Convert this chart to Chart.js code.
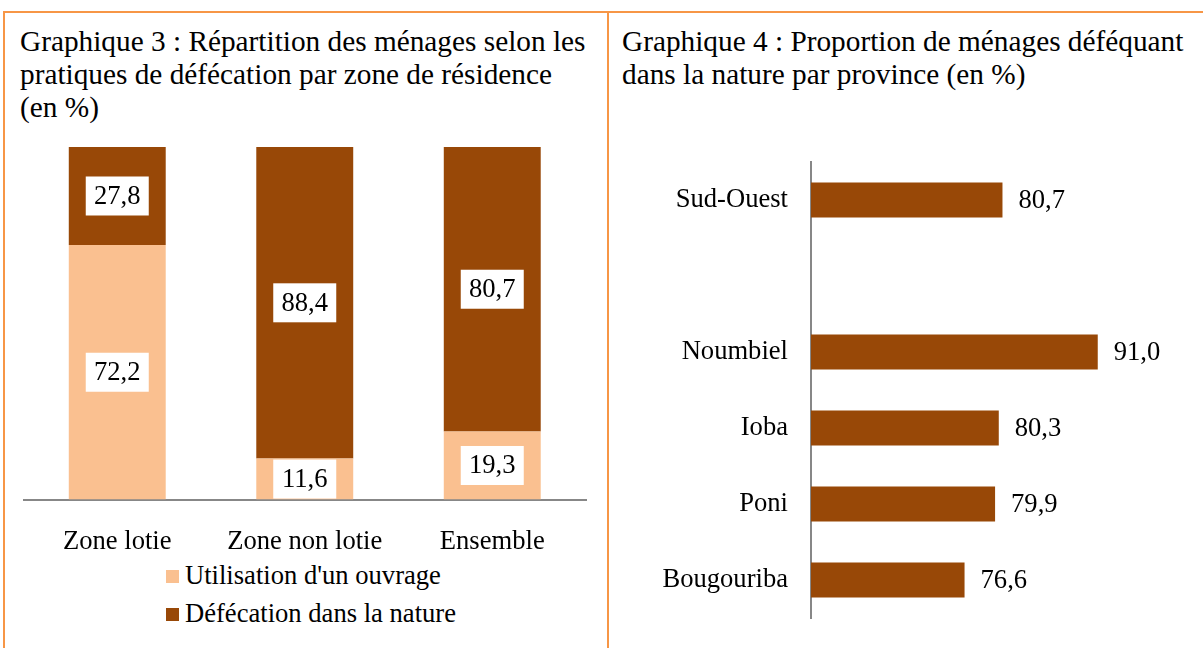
<!DOCTYPE html>
<html>
<head>
<meta charset="utf-8">
<script src="https://cdn.jsdelivr.net/npm/chart.js@4.4.0/dist/chart.umd.min.js"></script>
<style>
  body { margin: 0; width: 1203px; height: 648px; background: #fff; position: relative; overflow: hidden; font-family: "Liberation Serif", "Times New Roman", serif; }
  .line { position: absolute; background: #F79646; }
  .title { position: absolute; font-size: 29.3px; line-height: 33px; color: #000; white-space: nowrap; }
  .legend { position: absolute; left: 166px; font-size: 26.6px; line-height: 30px; color: #000; white-space: nowrap; }
  .legend span.box { display: inline-block; width: 13px; height: 13px; margin-right: 6px; vertical-align: 1px; }
  canvas { position: absolute; }
</style>
</head>
<body>
<div class="line" style="left:4px; top:11px; width:1199px; height:2px;"></div>
<div class="line" style="left:3px; top:11px; width:2px; height:637px;"></div>
<div class="line" style="left:607px; top:11px; width:2px; height:637px;"></div>

<div class="title" style="left:20px; top:25px;">Graphique 3 : Répartition des ménages selon les<br>pratiques de défécation par zone de résidence<br>(en %)</div>
<div class="title" style="left:622px; top:25px;">Graphique 4 : Proportion de ménages déféquant<br>dans la nature par province (en %)</div>

<canvas id="zoneChart" style="left:6px; top:120px;" width="600" height="440"></canvas>
<div id="zoneLegend"></div>
<canvas id="provChart" style="left:612px; top:130px;" width="591" height="510"></canvas>

<script>
// Graphique 3
const zones = ['Zone lotie', 'Zone non lotie', 'Ensemble'];
const ouvrage = [72.2, 11.6, 19.3];
const nature = [27.8, 88.4, 80.7];
const seriesNames = ["Utilisation d'un ouvrage", 'Défécation dans la nature'];
const seriesColors = ['#FAC090', '#984807'];

// Graphique 4
const provinces = ['Sud-Ouest', '', 'Noumbiel', 'Ioba', 'Poni', 'Bougouriba'];
const provValues = [80.7, null, 91.0, 80.3, 79.9, 76.6];

const serif = '"Liberation Serif", "Times New Roman", serif';
const axisGrey = '#878787';
const fontSize = 26.6;

function fr(v) {
    return v.toFixed(1).replace('.', ',');
}

// white boxed labels in the middle of each stacked segment
const boxLabels = {
    id: 'boxLabels',
    afterDatasetsDraw(chart) {
        const ctx = chart.ctx;
        ctx.save();
        ctx.font = fontSize + 'px ' + serif;
        ctx.textAlign = 'center';
        ctx.textBaseline = 'middle';
        chart.data.datasets.forEach((ds, i) => {
            chart.getDatasetMeta(i).data.forEach((bar, j) => {
                const cy = (bar.y + bar.base) / 2;
                ctx.fillStyle = '#fff';
                ctx.fillRect(bar.x - 31.5, cy - 19.5, 63, 39);
                ctx.fillStyle = '#000';
                ctx.fillText(fr(ds.data[j]), bar.x, cy + 1);
            });
        });
        ctx.restore();
    }
};

// value labels after the end of each horizontal bar
const endLabels = {
    id: 'endLabels',
    afterDatasetsDraw(chart) {
        const ctx = chart.ctx;
        ctx.save();
        ctx.font = fontSize + 'px ' + serif;
        ctx.textAlign = 'left';
        ctx.textBaseline = 'middle';
        ctx.fillStyle = '#000';
        const ds = chart.data.datasets[0];
        chart.getDatasetMeta(0).data.forEach((bar, j) => {
            if (ds.data[j] == null) return;
            ctx.fillText(fr(ds.data[j]), bar.x + 16, bar.y + 1);
        });
        ctx.restore();
    }
};

new Chart(document.getElementById('zoneChart'), {
    type: 'bar',
    data: {
        labels: zones,
        datasets: [
            { label: seriesNames[0], data: ouvrage, backgroundColor: seriesColors[0], borderWidth: 0 },
            { label: seriesNames[1], data: nature, backgroundColor: seriesColors[1], borderWidth: 0 }
        ]
    },
    options: {
        responsive: false,
        animation: false,
        events: [],
        layout: { padding: { left: 17.5, right: 20, top: 27, bottom: 0 } },
        datasets: { bar: { categoryPercentage: 1, barPercentage: 0.517 } },
        plugins: { legend: { display: false }, tooltip: { enabled: false } },
        scales: {
            x: {
                stacked: true,
                grid: { display: false, drawTicks: false },
                border: { display: true, color: axisGrey, width: 2 },
                ticks: { color: '#000', padding: 27, font: { family: serif, size: fontSize } },
                afterFit(scale) { scale.height = 60.5; }
            },
            y: { stacked: true, display: false, min: 0, max: 100 }
        }
    },
    plugins: [boxLabels]
});

// legend built from the series arrays
const legendEl = document.getElementById('zoneLegend');
seriesNames.forEach((name, i) => {
    const row = document.createElement('div');
    row.className = 'legend';
    row.style.top = (560 + i * 38) + 'px';
    row.innerHTML = '<span class="box" style="background:' + seriesColors[i] + '"></span>' + name;
    legendEl.appendChild(row);
});

new Chart(document.getElementById('provChart'), {
    type: 'bar',
    data: {
        labels: provinces,
        datasets: [{ data: provValues, backgroundColor: '#984807', borderWidth: 0 }]
    },
    options: {
        indexAxis: 'y',
        responsive: false,
        animation: false,
        events: [],
        layout: { padding: { left: 0, right: 22, top: 32, bottom: 22 } },
        datasets: { bar: { categoryPercentage: 1, barPercentage: 0.46 } },
        plugins: { legend: { display: false }, tooltip: { enabled: false } },
        scales: {
            x: { display: false, min: 60, max: 100 },
            y: {
                grid: { display: false, drawTicks: false },
                border: { display: true, color: axisGrey, width: 2 },
                ticks: { color: '#000', padding: 23, font: { family: serif, size: fontSize } },
                afterFit(scale) {
                    scale.width = 199;
                    // labels sit mid-category, no extra room needed above/below
                    scale.paddingTop = 0;
                    scale.paddingBottom = 0;
                }
            }
        }
    },
    plugins: [endLabels]
});
</script>
</body>
</html>
